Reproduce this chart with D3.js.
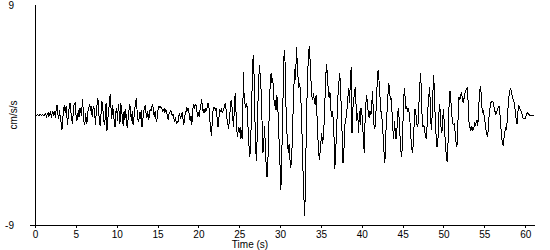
<!DOCTYPE html>
<html><head><meta charset="utf-8">
<script src="https://cdn.jsdelivr.net/npm/d3@7"></script>
<style>
body{margin:0;background:#fff}
svg{display:block}
text{font-family:"Liberation Sans",Arial,sans-serif;font-size:10px;fill:#000}
</style>
</head><body><svg id="c" width="550" height="250"></svg>
<script>
// sample spacing of the record, seconds
const sampleInterval = 0.1;
// acceleration, cm/s/s, one row per second (10 samples)
const accel = [
 0,0.02,-0.05,0.05,0,-0.08,0.05,0.02,-0.05,0.06,
 0,-0.1,0.08,0.15,-0.12,0.05,0.2,-0.15,0.1,0.25,
 -0.2,0.15,0.3,-0.1,0.35,-0.25,0.55,0.8,0.1,-0.35,
 0.4,-0.2,-0.6,-1.2,-0.3,0.5,0.8,0.2,0.7,-0.1,
 -0.8,0.3,0.6,1.0,0.2,-0.4,-0.7,0.5,0.9,1.0,
 0.1,-0.5,-0.3,0.4,-0.2,0.6,0.3,-0.1,1.3,0.5,
 -0.6,-0.8,0.2,-0.7,-0.5,0.4,0.6,0.9,0.3,0.7,
 -0.2,0.5,0.7,0.2,-0.8,0.3,0.9,1.4,0.2,-0.6,
 -0.9,0.3,1.1,0.6,-0.4,-0.8,-0.2,1.0,-1.3,-0.5,
 0.4,0.9,1.7,0.6,-0.3,0.8,0.2,-0.5,-1.0,0.3,
 0.6,-0.5,0.9,0.2,-0.7,1.0,0.4,-0.3,-0.9,0.3,
 -0.4,0.5,-0.6,-1.1,-0.3,0.4,0.9,0.2,-0.5,0.3,
 -0.8,-0.3,0.5,0.9,1.4,0.3,-0.4,-0.6,0.2,-0.3,
 0.4,-1.0,-0.4,0.3,0.6,0.8,0.1,-0.2,0.3,-0.4,
 -0.1,0.5,0.3,0.7,0.9,0.4,-0.2,0.3,-0.3,-0.6,
 0.1,0.7,0.6,0.75,0.6,0.65,0.3,0.4,0.5,0.2,
 0.4,0.3,-0.1,-0.4,0.1,0.2,0.35,0.3,-0.1,0.1,
 -0.3,-0.6,-0.2,-0.7,-0.5,-0.6,0.0,0.1,-0.3,-0.1,
 0.2,-0.2,-0.8,-0.4,0.2,0.3,0.6,0.4,0.6,-0.2,
 -0.5,-0.1,-0.8,0.3,0.9,0.6,0.8,0.9,0.3,0.0,
 0.2,-0.2,0.4,0.8,1.3,0.6,0.2,0.5,0.2,0.5,
 0.3,0.8,1.0,0.6,-0.4,-1.2,-1.7,-0.5,0.4,0.6,
 0.65,0.3,0.6,-0.4,-1.0,-0.3,0.4,0.3,0.5,0.2,
 0.3,0.5,0.8,1.0,0.4,-0.3,-0.7,-1.1,-0.4,0.5,
 1.2,0.8,-0.2,-1.0,0.6,1.8,0.3,-1.2,-1.8,-1.0,
 -1.5,-1.0,-2.0,-1.2,-2.0,3.5,1.5,0.9,0.6,1.0,
 0.4,-1.5,-2.6,-3.4,-2.4,0.5,2.8,4.9,3.6,0.2,
 -2.5,-3.8,-1.6,1.2,3.2,4.1,2.4,2.0,-0.8,-3.1,
 -2.4,-0.9,-2.8,-4.2,-5.1,-4.0,-1.5,0.9,2.8,3.4,
 2.6,3.0,1.8,0.7,1.2,0.4,1.6,1.1,-0.8,-2.5,
 -4.3,-6.1,-3.5,-0.4,2.8,5.3,4.4,1.2,-1.2,-2.0,
 -3.1,-2.4,-3.6,-4.3,-3.8,-2.0,0.5,2.5,3.8,2.9,
 5.6,4.3,3.0,2.2,2.6,1.8,0.5,-2.0,-4.5,-6.5,
 -8.3,-6.0,-1.5,1.5,3.8,5.2,5.6,4.0,2.5,1.5,
 1.2,1.8,1.0,0.9,1.6,0.2,-1.5,-2.8,-3.7,-3.0,
 -2.2,-1.5,-2.4,-1.8,-0.5,1.5,3.3,4.2,3.0,2.0,
 1.4,1.9,0.6,-0.2,0.3,-0.3,-1.8,-4.4,-3.0,-1.5,
 0.2,1.8,2.7,3.4,2.2,0.3,-1.8,-3.9,-3.2,-1.0,
 -0.4,-0.2,0.6,1.5,2.2,1.0,2.8,3.9,-1.5,0.5,
 1.2,1.7,2.3,0.8,-0.5,0.2,-1.5,0.3,-0.8,0.6,
 0.3,-0.8,-2.0,-3.1,-0.5,1.0,1.6,0.8,0.1,-0.2,
 0.3,0.0,0.4,2.0,0.5,-0.9,-1.1,-0.4,1.5,2.8,
 3.7,2.9,1.8,0.6,0.0,-0.4,-1.6,-2.8,-3.9,-3.2,
 -0.2,0.3,1.6,2.6,2.0,1.2,1.4,0.2,-1.1,-2.0,
 -0.5,-1.4,-2.0,-1.2,0.2,0.6,-0.8,-2.0,-3.0,-3.4,
 -1.5,0.8,2.2,1.5,0.5,0.7,0.4,0.6,0.2,-0.6,
 -1.8,-2.6,-3.1,-2.4,-0.8,0.5,0.3,-0.5,-1.0,-0.7,
 1.0,2.5,3.4,1.8,-0.6,-1.0,-0.8,-1.4,-1.6,-2.0,
 -0.8,0.6,1.5,2.3,0.6,-1.2,-0.2,1.8,3.3,1.5,
 -0.5,-1.8,-2.6,-2.4,-0.5,0.9,0.3,-1.0,-1.5,-0.3,
 0.5,-0.8,-2.0,-3.0,-3.7,-3.8,-1.0,1.2,2.0,1.2,
 0.2,-0.6,-0.8,-0.7,-1.2,-2.0,-2.6,-2.4,0.2,1.5,
 1.2,1.6,1.9,1.4,1.0,1.3,1.7,1.9,2.1,2.2,
 1.2,-0.4,-1.0,-1.2,-0.9,-1.3,-1.0,-1.2,-0.6,-0.8,
 -0.6,-0.4,-0.9,0.5,1.6,2.4,1.8,0.6,0.2,0.4,
 -0.3,-0.6,-1.2,-1.6,-1.8,-1.0,0.2,0.6,1.0,1.1,
 1.1,1.0,0.6,0.3,0.1,0.2,0.5,0.6,0.7,0.2,
 -0.8,-1.7,-2.3,-2.5,-1.9,-1.4,-1.0,-1.2,-0.5,0.6,
 1.4,2.0,2.1,2.0,1.6,1.3,1.2,0.8,0.2,-0.4,
 -0.7,0.2,0.8,0.6,0.4,0.3,0.1,-0.2,-0.3,-0.3,
 -0.3,-0.1,0.1,0.2,0.1,0.0,0.0,0.0,0.0,0.0,
 0.0,0.0
];
const xTicks = [0,5,10,15,20,25,30,35,40,45,50,55,60];
const yTickLabels = [9,-9];
const xTitle = "Time (s)";
const yTitle = "cm/s/s";

const svg = d3.select("#c");
const x = d3.scaleLinear().domain([0, 61.2]).range([35, 535]);
const y = d3.scaleLinear().domain([-9, 9]).range([225, 5]);

const series = accel.map((v, i) => ({t: i * sampleInterval, v}));

// trace
svg.append("path")
  .datum(series)
  .attr("fill", "none")
  .attr("stroke", "#000")
  .attr("stroke-width", 1)
  .attr("shape-rendering", "crispEdges")
  .attr("d", d3.line().x(d => x(d.t)).y(d => y(d.v)));

// x axis
const gx = svg.append("g").attr("transform", `translate(0,${y(-9)})`)
  .call(d3.axisBottom(x).tickValues(xTicks).tickSize(3).tickSizeOuter(0).tickPadding(3).tickFormat(d => String(d)));
gx.select(".domain").remove();
gx.selectAll("line").attr("stroke", "#000").attr("shape-rendering", "crispEdges");
gx.selectAll("text").attr("font-family", null).attr("font-size", null);
svg.append("line").attr("x1", 30).attr("x2", x(61.2)).attr("y1", y(-9)).attr("y2", y(-9))
  .attr("stroke", "#000").attr("shape-rendering", "crispEdges");

// y axis
const gy = svg.append("g").attr("transform", `translate(${x(0)},0)`)
  .call(d3.axisLeft(y).tickValues(yTickLabels).tickSize(0).tickPadding(21).tickFormat(d => String(d)));
gy.select(".domain").remove();
gy.selectAll("text").attr("font-family", null).attr("font-size", null);
svg.append("line").attr("x1", x(0)).attr("x2", x(0)).attr("y1", y(9)).attr("y2", y(-9))
  .attr("stroke", "#000").attr("shape-rendering", "crispEdges");

// titles
svg.append("text").attr("x", 250).attr("y", 248).attr("text-anchor", "middle").text(xTitle);
svg.append("text").attr("transform", `translate(17,${y(0)}) rotate(-90)`).attr("text-anchor", "middle").text(yTitle);
</script>
</body></html>
